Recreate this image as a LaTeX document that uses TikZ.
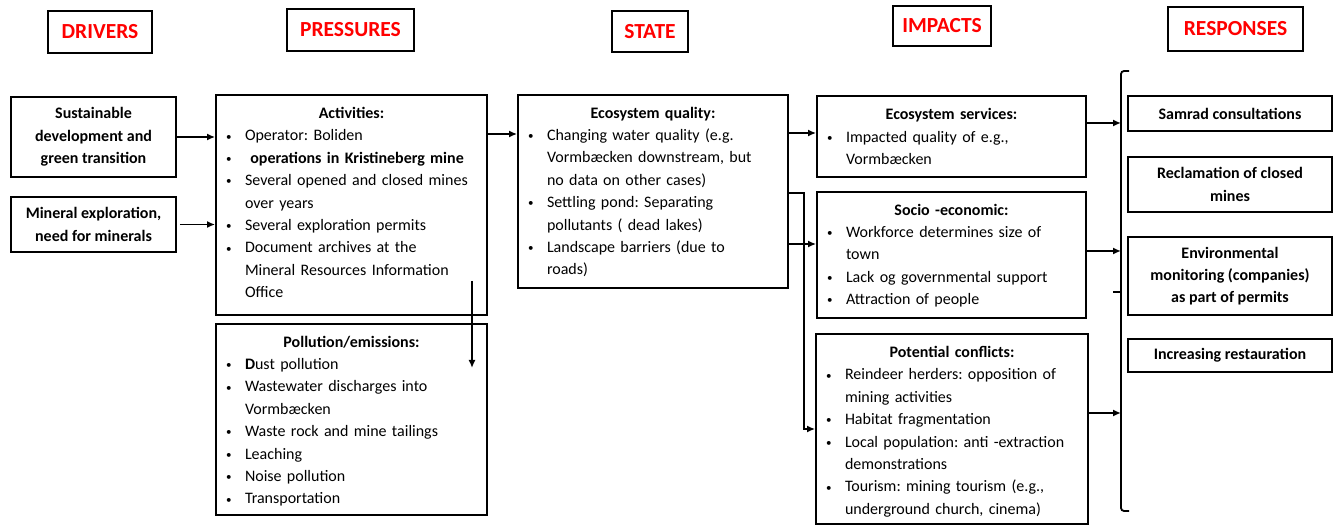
\documentclass[tikz,border=0pt]{standalone}
\usepackage{fontspec}
\setmainfont{Carlito}
\usetikzlibrary{arrows.meta}
\frenchspacing
% list helpers: title line, bulleted line, continuation line, bottom padding
\newlength\bulw \setlength\bulw{21pt}
\newcommand\smallbullet{\hspace*{2pt}\raisebox{0.8pt}{\fontsize{11}{11}\selectfont\textbullet}}
\newcommand\ttl[1]{\par\noindent\makebox[\linewidth][c]{\bfseries #1}}
\newcommand\bl[1]{\par\noindent\makebox[\bulw][l]{\smallbullet}\mbox{#1}}
\newcommand\cl[1]{\par\noindent\hspace*{\bulw}\mbox{#1}}
\newcommand\tail[1]{\par\nointerlineskip\vbox to #1{\vfil}}
\begin{document}
\begin{tikzpicture}[x=1pt,y=-1pt,
  hdr/.style={draw, line width=1.8pt, text=red, inner sep=0pt,
    font=\fontsize{21.5}{24}\selectfont\bfseries},
  box/.style={draw, line width=1.8pt, inner ysep=1pt, inner xsep=8pt,
    align=left, font=\fontsize{16}{22.4}\selectfont},
  cbox/.style={draw, line width=1.8pt, inner sep=0pt, align=center,
    font=\fontsize{16}{22.3}\selectfont\bfseries},
  arr/.style={line width=1.8pt, -{Latex[length=8pt,width=7pt]}},
  wire/.style={line width=1.8pt}]
\useasboundingbox (0,0) rectangle (1336,526);

% column headings
\node[hdr, minimum width=104pt, minimum height=42pt] (hD) at (100,32) {DRIVERS};
\node[hdr, minimum width=127pt, minimum height=42pt] (hP) at (350.5,30) {PRESSURES};
\node[hdr, minimum width=76pt, minimum height=41pt] (hS) at (650,31.5) {STATE};
\node[hdr, minimum width=98pt, minimum height=40pt] (hI) at (942,26) {IMPACTS};
\node[hdr, minimum width=135pt, minimum height=44pt] (hR) at (1235.5,29) {RESPONSES};

% drivers
\node[cbox, minimum width=165pt, minimum height=80pt] (d1) at (93.5,137)
  {Sustainable\\development and\\green transition};
\node[cbox, minimum width=165pt, minimum height=55pt] (d2) at (93.5,224.5)
  {Mineral exploration,\\need for minerals};

% pressures
\node[box, minimum width=271pt, minimum height=214pt, text width=255pt] (act) at (351.5,205)
  {\ttl{Activities:}
   \bl{Operator: Boliden}
   \bl{\bfseries\ operations in Kristineberg mine}
   \bl{Several opened and closed mines}
   \cl{over years}
   \bl{Several exploration permits}
   \bl{Document archives at the}
   \cl{Mineral Resources Information}
   \cl{Office}
   \tail{16pt}};
\node[box, minimum width=271pt, minimum height=191pt, text width=255pt] (pol) at (351.5,419.5)
  {\ttl{Pollution/emissions:}
   \bl{\textbf{D}ust pollution}
   \bl{Wastewater discharges into}
   \cl{Vormbæcken}
   \bl{Waste rock and mine tailings}
   \bl{Leaching}
   \bl{Noise pollution}
   \bl{Transportation}
   \tail{8pt}};

% state
\node[box, minimum width=270pt, minimum height=191pt, text width=254pt] (state) at (653,191.5)
  {\ttl{Ecosystem quality:}
   \bl{Changing water quality (e.g.}
   \cl{Vormbæcken downstream, but}
   \cl{no data on other cases)}
   \bl{Settling pond: Separating}
   \cl{pollutants ( dead lakes)}
   \bl{Landscape barriers (due to}
   \cl{roads)}
   \tail{10pt}};

% impacts
\node[box, minimum width=269pt, minimum height=81pt, text width=253pt] (es) at (951.5,136.5)
  {\ttl{Ecosystem services:}
   \bl{Impacted quality of e.g.,}
   \cl{Vormbæcken}
   \tail{11pt}};
\node[box, minimum width=269pt, minimum height=124pt, text width=253pt] (soc) at (951.5,255)
  {\ttl{Socio -economic:}
   \bl{Workforce determines size of}
   \cl{town}
   \bl{Lack og governmental support}
   \bl{Attraction of people}
   \tail{10pt}};
\node[box, minimum width=272pt, minimum height=188pt, text width=256pt] (conf) at (952,429)
  {\ttl{Potential conflicts:}
   \bl{Reindeer herders: opposition of}
   \cl{mining activities}
   \bl{Habitat fragmentation}
   \bl{Local population: anti -extraction}
   \cl{demonstrations}
   \bl{Tourism: mining tourism (e.g.,}
   \cl{underground church, cinema)}
   \tail{6pt}};

% responses
\node[cbox, minimum width=204pt, minimum height=35pt] (r1) at (1230,113.5) {Samrad consultations};
\node[cbox, minimum width=204pt, minimum height=55pt] (r2) at (1230,184.5) {Reclamation of closed\\mines};
\node[cbox, minimum width=204pt, minimum height=78pt] (r3) at (1230,276) {Environmental\\monitoring (companies)\\as part of permits};
\node[cbox, minimum width=204pt, minimum height=33pt] (r4) at (1230,355.5) {Increasing restauration};

% bracket gathering the responses
\coordinate (brT) at (1121,71);
\coordinate (brB) at (1121,511);
\coordinate (brM) at (1121,292);
\draw[wire, rounded corners=3pt] ([xshift=8pt]brT) -- (brT) -- (brB) -- ([xshift=8pt]brB);
\draw[wire] ([xshift=-8pt]brM) -- (brM);

% drivers -> pressures
\draw[arr] (d1.east) -- (d1.east -| act.west);
\draw[arr] ([xshift=3pt]d2.east) -- (d2.east -| act.west);

% activities -> emissions
\coordinate (pa) at (472,281);
\coordinate (pb) at (472,368);
\draw[arr] (pa) -- (pb);

% pressures -> state
\coordinate (a1) at ([yshift=71pt]act.east);
\draw[arr] (a1) -- (a1 -| state.west);

% state -> impacts
\coordinate (s1) at ([yshift=58.5pt]state.east);
\draw[arr] (s1) -- (s1 -| es.west);
\coordinate (s2) at ([yshift=-52.5pt]state.east);
\draw[arr] (s2) -- (s2 -| soc.west);
\coordinate (s3) at ([yshift=-1.5pt]state.east);
\draw[arr] (s3) -- ++(15,0) |- (conf.west);

% impacts -> responses
\coordinate (e1) at ([yshift=13.5pt]es.east);
\draw[arr] (e1) -- (e1 -| brT);
\coordinate (e2) at ([yshift=4pt]soc.east);
\draw[arr] (e2) -- (e2 -| brT);
\coordinate (e3) at ([yshift=16pt]conf.east);
\draw[arr] (e3) -- (e3 -| brT);
\end{tikzpicture}
\end{document}
